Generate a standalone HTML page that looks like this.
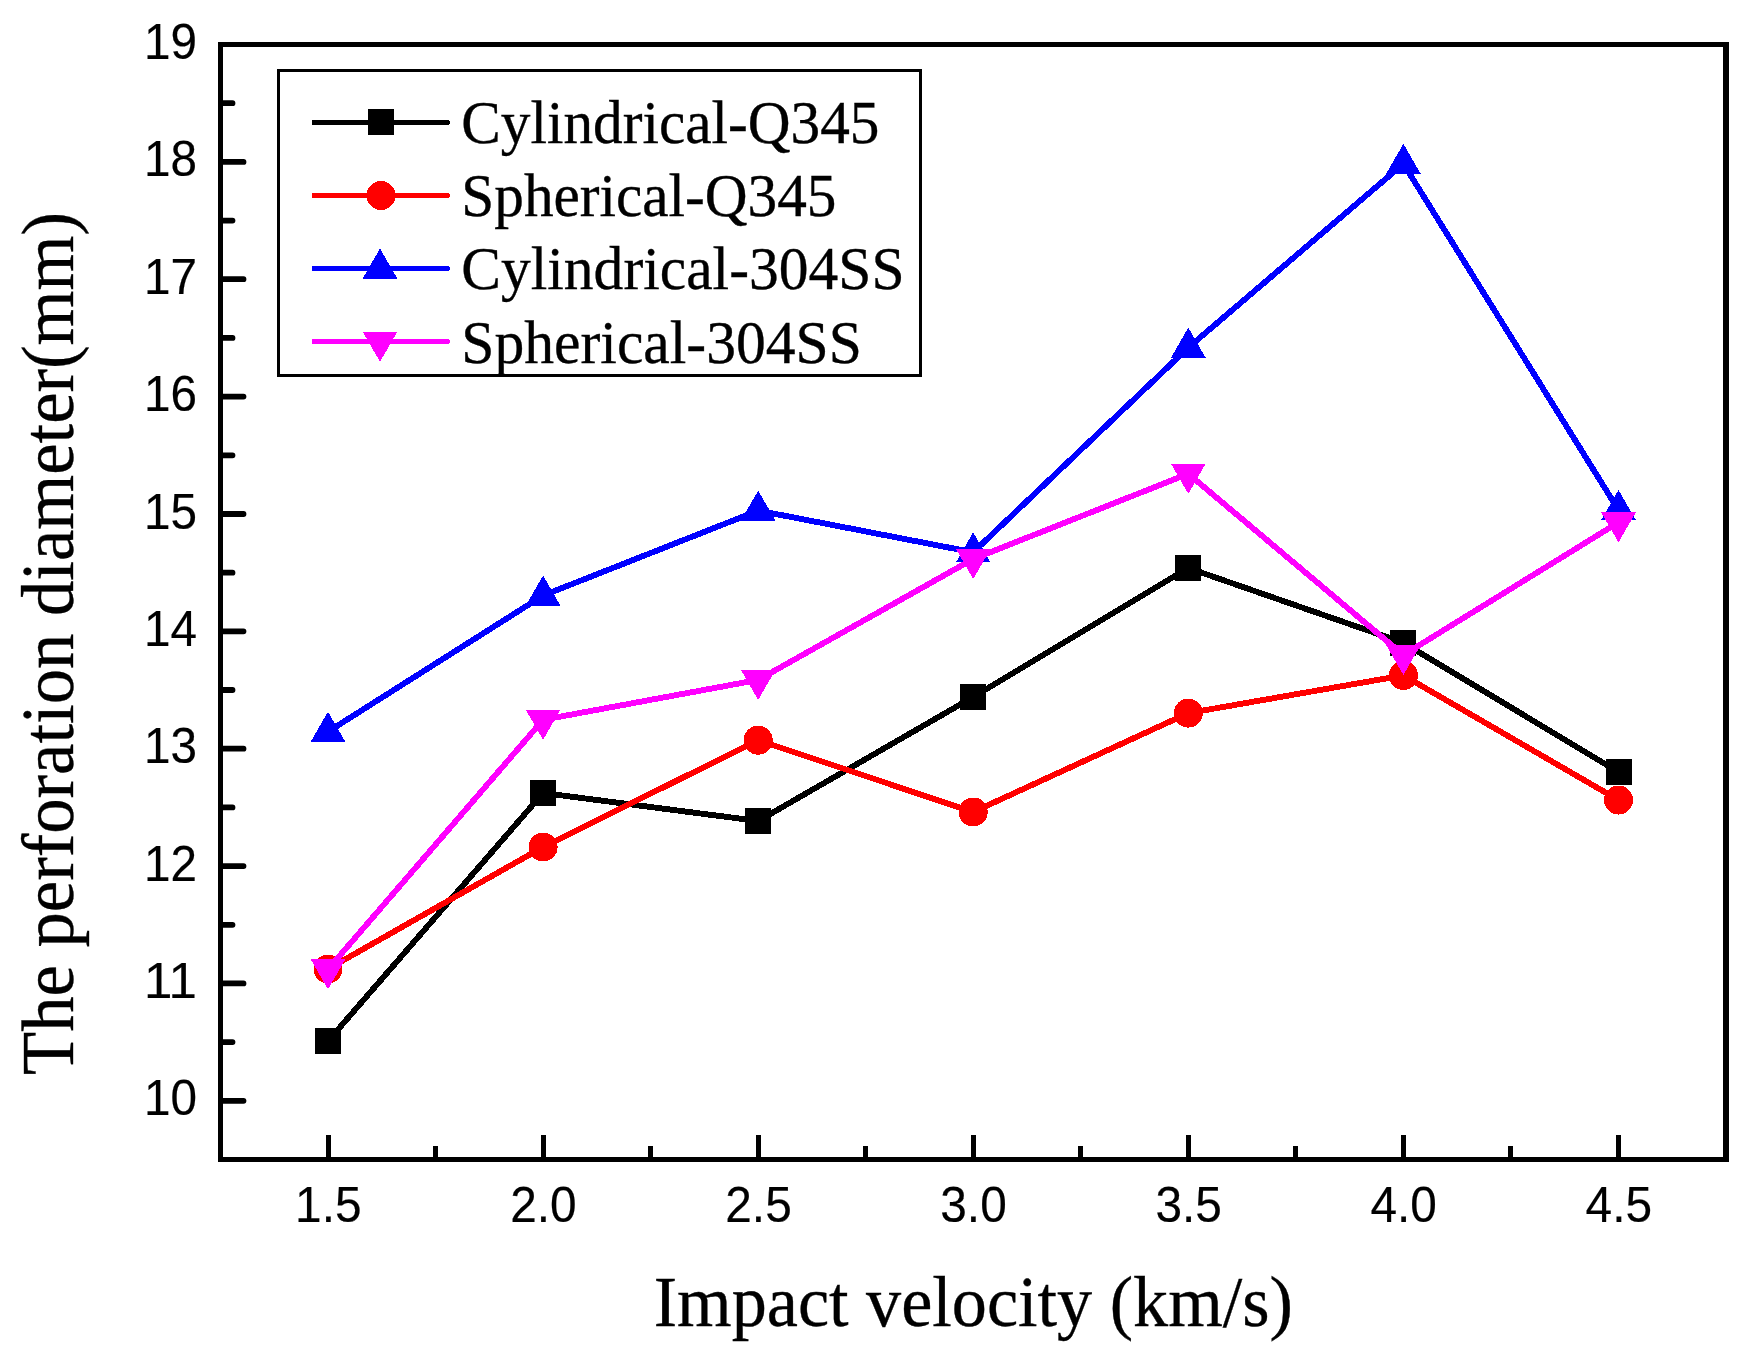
<!DOCTYPE html>
<html lang="en"><head><meta charset="utf-8"><title>Perforation diameter vs impact velocity</title>
<style>html,body{margin:0;padding:0;background:#fff}svg{display:block}
.ax{font-family:"Liberation Sans",Arial,sans-serif;font-size:50.5px;fill:#000;stroke:#000;stroke-width:.2px}
.ti{font-family:"Liberation Serif","Times New Roman",serif;font-size:70px;fill:#000;stroke:#000;stroke-width:.35px}
.lg{font-family:"Liberation Serif","Times New Roman",serif;font-size:61.5px;fill:#000;stroke:#000;stroke-width:.35px}
</style></head><body>
<svg width="1746" height="1364" viewBox="0 0 1746 1364">
<rect width="1746" height="1364" fill="#fff"/>
<g shape-rendering="crispEdges" stroke="#000" fill="none">
<path d="M220.5 42V1162M218 44.5H1729M218 1159.5H1729" stroke-width="5"/>
<path d="M1726 42V1162" stroke-width="6"/>
</g>
<g stroke="#000" stroke-width="5" fill="none">
<path d="M223 1100.8H243.5M223 983.4H243.5M223 866.1H243.5M223 748.7H243.5M223 631.3H243.5M223 514.0H243.5M223 396.6H243.5M223 279.2H243.5M223 161.9H243.5M223 1042.1H232.5M223 924.8H232.5M223 807.4H232.5M223 690.0H232.5M223 572.7H232.5M223 455.3H232.5M223 337.9H232.5M223 220.6H232.5M223 103.2H232.5" stroke-linecap="round" stroke-width="5.8"/>
<path d="M328.0 1157V1135M543.1 1157V1135M758.2 1157V1135M973.2 1157V1135M1188.3 1157V1135M1403.4 1157V1135M1618.5 1157V1135M435.6 1157V1146M650.6 1157V1146M865.7 1157V1146M1080.8 1157V1146M1295.9 1157V1146M1510.9 1157V1146" shape-rendering="crispEdges"/>
</g>
<g class="ax" text-anchor="end">
<text x="197" y="1115.3" textLength="53" lengthAdjust="spacingAndGlyphs">10</text><text x="197" y="997.9" textLength="53" lengthAdjust="spacingAndGlyphs">11</text><text x="197" y="880.6" textLength="53" lengthAdjust="spacingAndGlyphs">12</text><text x="197" y="763.2" textLength="53" lengthAdjust="spacingAndGlyphs">13</text><text x="197" y="645.8" textLength="53" lengthAdjust="spacingAndGlyphs">14</text><text x="197" y="528.5" textLength="53" lengthAdjust="spacingAndGlyphs">15</text><text x="197" y="411.1" textLength="53" lengthAdjust="spacingAndGlyphs">16</text><text x="197" y="293.7" textLength="53" lengthAdjust="spacingAndGlyphs">17</text><text x="197" y="176.4" textLength="53" lengthAdjust="spacingAndGlyphs">18</text><text x="197" y="59.0" textLength="53" lengthAdjust="spacingAndGlyphs">19</text>
</g>
<g class="ax" text-anchor="middle">
<text x="328.3" y="1221.8" textLength="66.4" lengthAdjust="spacingAndGlyphs">1.5</text><text x="543.4" y="1221.8" textLength="66.4" lengthAdjust="spacingAndGlyphs">2.0</text><text x="758.5" y="1221.8" textLength="66.4" lengthAdjust="spacingAndGlyphs">2.5</text><text x="973.5" y="1221.8" textLength="66.4" lengthAdjust="spacingAndGlyphs">3.0</text><text x="1188.6" y="1221.8" textLength="66.4" lengthAdjust="spacingAndGlyphs">3.5</text><text x="1403.7" y="1221.8" textLength="66.4" lengthAdjust="spacingAndGlyphs">4.0</text><text x="1618.8" y="1221.8" textLength="66.4" lengthAdjust="spacingAndGlyphs">4.5</text>
</g>
<text class="ti" style="font-size:71px" x="653.7" y="1325.5" textLength="639.3" lengthAdjust="spacingAndGlyphs">Impact velocity (km/s)</text>
<text class="ti" style="font-size:73.5px" transform="translate(73.4 1075) rotate(-90)" textLength="863" lengthAdjust="spacingAndGlyphs">The perforation diameter(mm)</text>
<g fill="#000" stroke="none" shape-rendering="crispEdges">
<polyline points="328.0,1041.0 543.1,793.0 758.2,821.0 973.2,697.0 1188.3,568.0 1403.4,642.8 1618.5,772.0" fill="none" stroke="#000" stroke-width="5.9" stroke-linejoin="round"/>
<rect x="315.0" y="1028.0" width="26" height="26"/><rect x="530.1" y="780.0" width="26" height="26"/><rect x="745.2" y="808.0" width="26" height="26"/><rect x="960.2" y="684.0" width="26" height="26"/><rect x="1175.3" y="555.0" width="26" height="26"/><rect x="1390.4" y="629.8" width="26" height="26"/><rect x="1605.5" y="759.0" width="26" height="26"/>
</g>
<g fill="#f00" stroke="none" shape-rendering="crispEdges">
<polyline points="328.0,969.0 543.1,847.0 758.2,740.2 973.2,812.0 1188.3,713.1 1403.4,675.4 1618.5,800.0" fill="none" stroke="#f00" stroke-width="5.9" stroke-linejoin="round"/>
<circle cx="328.0" cy="969.0" r="14.5"/><circle cx="543.1" cy="847.0" r="14.5"/><circle cx="758.2" cy="740.2" r="14.5"/><circle cx="973.2" cy="812.0" r="14.5"/><circle cx="1188.3" cy="713.1" r="14.5"/><circle cx="1403.4" cy="675.4" r="14.5"/><circle cx="1618.5" cy="800.0" r="14.5"/>
</g>
<g fill="#00f" stroke="none" shape-rendering="crispEdges">
<polyline points="328.0,731.7 543.1,595.5 758.2,510.6 973.2,552.3 1188.3,347.6 1403.4,163.8 1618.5,510.0" fill="none" stroke="#00f" stroke-width="5.9" stroke-linejoin="round"/>
<polygon points="328.0,711.7 345.3,741.7 310.7,741.7"/><polygon points="543.1,575.5 560.4,605.5 525.8,605.5"/><polygon points="758.2,490.6 775.5,520.6 740.9,520.6"/><polygon points="973.2,532.3 990.5,562.3 956.0,562.3"/><polygon points="1188.3,327.6 1205.6,357.6 1171.0,357.6"/><polygon points="1403.4,143.8 1420.7,173.8 1386.1,173.8"/><polygon points="1618.5,490.0 1635.8,520.0 1601.2,520.0"/>
</g>
<g fill="#f0f" stroke="none" shape-rendering="crispEdges">
<polyline points="328.0,969.3 543.1,719.8 758.2,679.9 973.2,559.0 1188.3,473.8 1403.4,655.0 1618.5,522.4" fill="none" stroke="#f0f" stroke-width="5.9" stroke-linejoin="round"/>
<polygon points="328.0,989.3 345.3,959.3 310.7,959.3"/><polygon points="543.1,739.8 560.4,709.8 525.8,709.8"/><polygon points="758.2,699.9 775.5,669.9 740.9,669.9"/><polygon points="973.2,579.0 990.5,549.0 956.0,549.0"/><polygon points="1188.3,493.8 1205.6,463.8 1171.0,463.8"/><polygon points="1403.4,675.0 1420.7,645.0 1386.1,645.0"/><polygon points="1618.5,542.4 1635.8,512.4 1601.2,512.4"/>
</g>
<rect x="278.5" y="70.5" width="642" height="305" fill="#fff" stroke="#000" stroke-width="3" shape-rendering="crispEdges"/>
<g fill="#000" shape-rendering="crispEdges"><path d="M312 122.5H447.5" stroke="#000" stroke-width="5"/><circle cx="447.5" cy="122.5" r="2.5"/><rect x="368.0" y="109.0" width="26" height="26"/></g>
<text class="lg" x="461.3" y="143.2" textLength="418.2" lengthAdjust="spacingAndGlyphs">Cylindrical-Q345</text>
<g fill="#f00" shape-rendering="crispEdges"><path d="M312 195.5H447.5" stroke="#f00" stroke-width="5"/><circle cx="447.5" cy="195.5" r="2.5"/><circle cx="381.0" cy="195.5" r="14.5"/></g>
<text class="lg" x="461.3" y="216" textLength="375.2" lengthAdjust="spacingAndGlyphs">Spherical-Q345</text>
<g fill="#00f" shape-rendering="crispEdges"><path d="M312 268.5H447.5" stroke="#00f" stroke-width="5"/><circle cx="447.5" cy="268.5" r="2.5"/><polygon points="380.0,248.5 397.3,278.5 362.7,278.5"/></g>
<text class="lg" x="461.3" y="289.3" textLength="443.2" lengthAdjust="spacingAndGlyphs">Cylindrical-304SS</text>
<g fill="#f0f" shape-rendering="crispEdges"><path d="M312 341.8H447.5" stroke="#f0f" stroke-width="5"/><circle cx="447.5" cy="341.8" r="2.5"/><polygon points="380.0,361.8 397.3,331.8 362.7,331.8"/></g>
<text class="lg" x="461.3" y="362.5" textLength="400.6" lengthAdjust="spacingAndGlyphs">Spherical-304SS</text>
</svg>
</body></html>
